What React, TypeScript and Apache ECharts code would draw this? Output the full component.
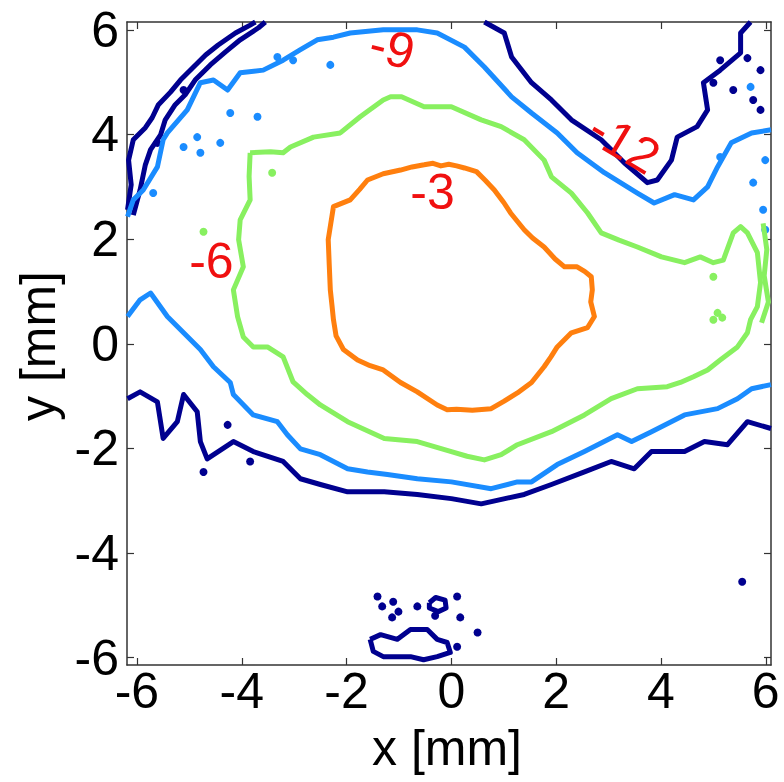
import React, { useEffect, useRef } from "react";
import * as echarts from "echarts";

const xTicks = [-6, -4, -2, 0, 2, 4, 6];
const yTicks = [-6, -4, -2, 0, 2, 4, 6];

// contour level -3
const contourM3: number[][] = [
  [-0.52, 3.42], [-0.35, 3.45], [-0.2, 3.4], [-0.05, 3.43], [0.1, 3.4], [0.25, 3.36], [0.48, 3.29],
  [0.65, 3.12], [0.82, 2.94], [1.0, 2.7], [1.13, 2.5], [1.39, 2.18], [1.55, 2.02], [1.77, 1.85],
  [1.98, 1.62], [2.16, 1.47], [2.4, 1.47], [2.55, 1.38], [2.67, 1.28], [2.69, 1.03], [2.66, 0.8],
  [2.73, 0.52], [2.6, 0.31], [2.29, 0.21], [2.02, -0.06], [1.9, -0.25], [1.77, -0.44], [1.53, -0.74],
  [1.26, -0.94], [1.0, -1.1], [0.76, -1.24], [0.4, -1.27], [0.1, -1.25], [-0.08, -1.26], [-0.27, -1.17],
  [-0.65, -0.92], [-0.97, -0.74], [-1.3, -0.5], [-1.55, -0.42], [-1.79, -0.31], [-2.06, -0.11],
  [-2.2, 0.15], [-2.25, 0.46], [-2.28, 0.75], [-2.31, 1.03], [-2.33, 1.5], [-2.35, 1.99],
  [-2.25, 2.62], [-1.93, 2.75], [-1.75, 2.95], [-1.6, 3.13], [-1.3, 3.25], [-0.97, 3.32],
  [-0.75, 3.38], [-0.52, 3.42],
];

// contour level -6
const contourM6: number[][] = [
  [-3.84, 3.65], [-3.45, 3.67], [-3.21, 3.65], [-3.07, 3.76], [-2.63, 3.95], [-2.12, 4.03],
  [-1.74, 4.34], [-1.3, 4.66], [-1.16, 4.72], [-0.95, 4.72], [-0.52, 4.53], [0, 4.53],
  [0.57, 4.28], [0.95, 4.15], [1.39, 3.9], [1.77, 3.51], [1.91, 3.19], [2.29, 2.88], [2.6, 2.5],
  [2.86, 2.12], [3.2, 1.98], [3.55, 1.85], [4.01, 1.66], [4.45, 1.55], [4.75, 1.66], [5.0, 1.55],
  [5.19, 1.6], [5.38, 2.12], [5.52, 2.24], [5.65, 2.12], [5.84, 1.74], [5.9, 1.17], [5.84, 0.71],
  [5.71, 0.46], [5.65, 0.21], [5.46, -0.06], [5.13, -0.31], [4.89, -0.5], [4.62, -0.63],
  [4.37, -0.74], [4.12, -0.82], [3.55, -0.86], [3.05, -1.05], [2.54, -1.36], [1.91, -1.68],
  [1.26, -1.93], [0.95, -2.12], [0.63, -2.22], [0.3, -2.15], [0, -2.06], [-0.65, -1.87],
  [-1.28, -1.81], [-1.98, -1.49], [-2.5, -1.17], [-2.75, -0.97], [-3.02, -0.73], [-3.21, -0.25],
  [-3.51, -0.06], [-3.78, -0.06], [-3.97, 0.13], [-4.08, 0.52], [-4.16, 1.03], [-3.97, 1.47],
  [-4.06, 1.99], [-4.03, 2.37], [-3.84, 2.75], [-3.86, 3.2], [-3.84, 3.65],
];
const contourM6Edge: number[][] = [
  [5.95, 2.3], [6.02, 1.8], [5.97, 1.3], [6.05, 0.8], [5.92, 0.4],
];

// contour level -9
const contourM9Top: number[][] = [
  [-6.18, 2.43], [-6.07, 2.75], [-5.88, 2.94], [-5.61, 3.38], [-5.5, 3.9], [-5.42, 4.03],
  [-5.04, 4.47], [-4.79, 4.99], [-4.54, 5.04], [-4.27, 4.85], [-4.03, 5.18], [-3.59, 5.23],
  [-3.21, 5.42], [-2.88, 5.62], [-2.56, 5.81], [-2.25, 5.86], [-1.93, 5.94], [-1.3, 6.0],
  [-0.65, 6.0], [-0.27, 5.94], [0.25, 5.67], [0.63, 5.29], [1.15, 4.72], [1.53, 4.41],
  [2.02, 4.03], [2.4, 3.65], [2.92, 3.27], [3.55, 2.88], [3.87, 2.69], [4.26, 2.85],
  [4.62, 2.75], [4.89, 3.0], [5.08, 3.38], [5.34, 3.84], [5.73, 4.03], [6.1, 4.09],
];
const contourM9Bottom: number[][] = [
  [-6.18, 0.52], [-5.94, 0.84], [-5.74, 0.97], [-5.42, 0.52], [-5.11, 0.21], [-4.79, -0.11],
  [-4.54, -0.44], [-4.22, -0.74], [-4.16, -0.97], [-3.78, -1.36], [-3.32, -1.49], [-3.13, -1.74],
  [-2.88, -2.01], [-2.5, -2.12], [-1.98, -2.39], [-1.6, -2.45], [-1.22, -2.5], [-0.65, -2.58],
  [0, -2.64], [0.76, -2.77], [1.26, -2.64], [1.53, -2.64], [2.02, -2.31], [2.54, -2.06],
  [3.17, -1.74], [3.44, -1.87], [3.82, -1.68], [4.45, -1.36], [5.08, -1.24], [5.46, -1.05],
  [5.73, -0.86], [6.1, -0.78],
];

// contour level -12
const contourM12Left: number[][] = [
  [-6.18, 2.56], [-6.11, 3.04], [-6.16, 3.51], [-6.07, 3.9], [-5.84, 4.13], [-5.71, 4.32],
  [-5.59, 4.57], [-5.36, 4.81], [-5.17, 5.04], [-4.94, 5.27], [-4.69, 5.52], [-4.45, 5.71],
  [-4.12, 5.94], [-3.84, 6.09], [-3.74, 6.15],
];
const contourM12LeftInner: number[][] = [
  [-6.07, 2.46], [-5.94, 2.94], [-5.84, 3.42], [-5.74, 3.71], [-5.55, 3.99], [-5.46, 4.28],
  [-5.27, 4.57], [-5.08, 4.76], [-4.89, 5.04], [-4.6, 5.33], [-4.31, 5.58], [-4.03, 5.81],
  [-3.68, 6.04], [-3.55, 6.15],
];
const contourM12Right: number[][] = [
  [0.63, 6.15], [1.01, 5.94], [1.15, 5.48], [1.53, 4.99], [1.91, 4.66], [2.29, 4.28],
  [2.86, 3.9], [3.3, 3.46], [3.74, 3.08], [3.93, 3.13], [4.2, 3.51], [4.31, 3.95], [4.69, 4.15],
  [4.89, 4.47], [4.81, 4.99], [5.13, 5.23], [5.52, 5.56], [5.52, 5.94], [5.71, 6.15],
];
const contourM12Bottom: number[][] = [
  [-6.18, -1.05], [-5.94, -0.92], [-5.61, -1.11], [-5.5, -1.81], [-5.23, -1.49], [-5.11, -0.97],
  [-4.85, -1.3], [-4.79, -1.87], [-4.66, -2.2], [-4.16, -1.87], [-3.78, -2.06], [-3.21, -2.25],
  [-2.88, -2.58], [-2.5, -2.69], [-1.98, -2.83], [-1.28, -2.83], [-0.65, -2.88], [0, -2.96],
  [0.57, -3.06], [1.39, -2.88], [1.91, -2.69], [2.54, -2.45], [3.05, -2.25], [3.49, -2.39],
  [3.82, -2.06], [4.45, -2.06], [4.83, -1.87], [5.27, -1.93], [5.65, -1.49], [6.1, -1.62],
];
const contourM12Island: number[][] = [
  [-1.55, -5.65], [-1.35, -5.56], [-1.03, -5.65], [-0.78, -5.46], [-0.46, -5.46], [-0.27, -5.65],
  [-0.08, -5.71], [-0.02, -5.9], [-0.27, -5.98], [-0.53, -6.04], [-0.78, -5.98], [-1.03, -5.98],
  [-1.3, -5.98], [-1.49, -5.88], [-1.55, -5.65],
];
const contourM12IslandSmall: number[][] = [
  [-0.42, -4.95], [-0.3, -4.85], [-0.12, -4.9], [-0.1, -5.05], [-0.25, -5.12], [-0.42, -5.05],
  [-0.42, -4.95],
];

const blobsM12: number[][] = [
  [-0.31, -5.2], [-1.01, -5.12], [-0.65, -5.02], [-1.41, -4.83], [-1.32, -5.02],
  [-1.13, -5.23], [-1.11, -4.93], [0.11, -4.83], [0.17, -5.23], [0.11, -5.79], [0.5, -5.52],
  [5.55, -4.55], [5.13, 5.42], [5.65, 5.46], [5.0, 4.99], [5.38, 4.85], [5.9, 5.23], [5.76, 4.66],
  [5.9, 4.47], [-5.11, 4.85], [-5.61, 3.84], [-4.73, -2.45], [-4.27, -1.55], [-3.84, -2.25],
];
const blobsM9: number[][] = [
  [-4.22, 4.41], [-3.7, 4.34], [-4.85, 3.95], [-5.11, 3.76], [-4.79, 3.65], [-4.41, 3.84],
  [-5.69, 2.88], [-3.32, 5.48], [-3.02, 5.42], [-2.31, 5.33], [5.76, 3.08], [5.13, 3.57],
  [5.71, 4.91], [5.99, 3.51], [5.95, 2.56], [5.99, 2.18],
];
const blobsM6: number[][] = [
  [-4.73, 2.14], [-3.42, 3.27], [5.0, 1.28], [5.08, 0.59], [5.0, 0.46], [5.17, 0.5],
];

const levelLabels = ["-3", "-6", "-9", "-12"];
const labelPositions: number[][] = [[-0.36, 2.9], [-4.58, 1.59], [-1.13, 5.65], [3.3, 3.84]];
const labelRotations = [0, 0, -14, -31];

const colors = { m3: "#FF7F0E", m6: "#88F060", m9: "#1A8CFF", m12: "#00008F" };

export default function App() {
  const ref = useRef<HTMLDivElement>(null);
  useEffect(() => {
    if (!ref.current) return;
    const chart = echarts.init(ref.current, null, { renderer: "svg" });
    const font = "Liberation Sans, Arial, sans-serif";
    const line = (data: number[][], color: string) => ({
      type: "line",
      data,
      showSymbol: false,
      symbol: "none",
      lineStyle: { color, width: 5, join: "round" },
      itemStyle: { color },
      silent: true,
    });
    const blobs = (data: number[][], color: string) => ({
      type: "scatter",
      data,
      symbol: "circle",
      symbolSize: 8,
      itemStyle: { color, opacity: 1 },
      silent: true,
    });
    const axisCommon = {
      type: "value",
      splitLine: { show: false },
      axisLine: { show: true, onZero: false, lineStyle: { color: "#333", width: 1.5 } },
      axisTick: { show: true, inside: true, length: 7, lineStyle: { color: "#333", width: 1.2 } },
    };
    chart.setOption({
      animation: false,
      backgroundColor: "#fff",
      grid: { left: 127, top: 22, width: 644, height: 643, containLabel: false },
      xAxis: [
        {
          ...axisCommon,
          position: "bottom",
          min: -6.19,
          max: 6.1,
          axisTick: { ...axisCommon.axisTick, customValues: xTicks },
          axisLabel: {
            customValues: xTicks,
            fontSize: 50,
            fontFamily: font,
            color: "#000",
            margin: 6,
            lineHeight: 40,
          },
        },
        {
          ...axisCommon,
          position: "top",
          min: -6.19,
          max: 6.1,
          axisTick: { ...axisCommon.axisTick, customValues: xTicks },
          axisLabel: { show: false },
        },
      ],
      yAxis: [
        {
          ...axisCommon,
          position: "left",
          min: -6.14,
          max: 6.15,
          axisTick: { ...axisCommon.axisTick, customValues: yTicks },
          axisLabel: {
            customValues: yTicks,
            fontSize: 50,
            fontFamily: font,
            color: "#000",
            margin: 8,
          },
        },
        {
          ...axisCommon,
          position: "right",
          min: -6.14,
          max: 6.15,
          axisTick: { ...axisCommon.axisTick, customValues: yTicks },
          axisLabel: { show: false },
        },
      ],
      series: [
        line(contourM12Left, colors.m12),
        line(contourM12LeftInner, colors.m12),
        line(contourM12Right, colors.m12),
        line(contourM12Bottom, colors.m12),
        line(contourM12Island, colors.m12),
        line(contourM12IslandSmall, colors.m12),
        blobs(blobsM12, colors.m12),
        line(contourM9Top, colors.m9),
        line(contourM9Bottom, colors.m9),
        blobs(blobsM9, colors.m9),
        line(contourM6, colors.m6),
        line(contourM6Edge, colors.m6),
        blobs(blobsM6, colors.m6),
        line(contourM3, colors.m3),
      ],
    });
    const labelGraphics = labelPositions.map((p, i) => {
      const px = chart.convertToPixel({ xAxisIndex: 0, yAxisIndex: 0 }, p) as number[];
      return {
        type: "text",
        x: px[0],
        y: px[1],
        rotation: (labelRotations[i] * Math.PI) / 180,
        z: 100,
        style: {
          text: levelLabels[i],
          fontSize: 50,
          fontFamily: font,
          fill: "#F01010",
          align: "center",
          verticalAlign: "middle",
        },
      };
    });
    chart.setOption({
      graphic: [
        {
          type: "text",
          x: 447,
          y: 748,
          style: {
            text: "x [mm]",
            fontSize: 50,
            lineHeight: 42,
            fontFamily: font,
            fill: "#000",
            align: "center",
            verticalAlign: "middle",
          },
        },
        {
          type: "text",
          x: 38,
          y: 346,
          rotation: Math.PI / 2,
          style: {
            text: "y [mm]",
            fontSize: 50,
            fontFamily: font,
            fill: "#000",
            align: "center",
            verticalAlign: "middle",
          },
        },
        ...labelGraphics,
      ],
    });
    return () => chart.dispose();
  }, []);
  return (
    <div
      ref={ref}
      style={{ position: "fixed", left: 0, top: 0, width: 784, height: 782, background: "#fff" }}
    />
  );
}
